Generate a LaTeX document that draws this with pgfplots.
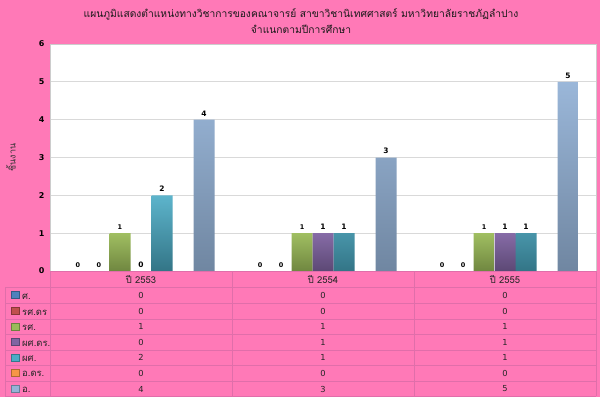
\documentclass[border=0pt]{standalone}
\usepackage{pgfplots}
\pgfplotsset{compat=1.18}
\usepackage{pgfplotstable}
\usepackage{fontspec}
\setmainfont{DejaVu Sans}
\newfontfamily\thai[Script=Thai]{Loma}
\definecolor{bgpink}{RGB}{255,121,183}
\definecolor{gridpink}{RGB}{224,110,170}
\definecolor{cA}{RGB}{79,129,189}
\definecolor{cB}{RGB}{192,80,77}
\definecolor{cC}{RGB}{155,187,89}
\definecolor{cD}{RGB}{128,100,162}
\definecolor{cE}{RGB}{75,172,198}
\definecolor{cF}{RGB}{247,150,70}
\definecolor{cG}{RGB}{149,179,215}
\pgfplotstableread{
x s1 s2 s3 s4 s5 s6 s7
0.5 0 0 1 0 2 0 4
1.5 0 0 1 1 1 0 3
2.5 0 0 1 1 1 0 5
}\data
\begin{document}
\begin{tikzpicture}
\begin{scope}[x=1bp,y=1bp]
\fill[bgpink] (0,0) rectangle (600,397);
\end{scope}
\begin{axis}[at={(50bp,126bp)}, anchor=south west, scale only axis,
  width=546bp, height=227bp, xmin=0, xmax=3, ymin=0, ymax=6,
  ytick={0,...,6}, xtick=\empty, ymajorgrids,
  grid style={black!15, line width=0.8pt}, major tick length=0pt,
  axis background/.style={fill=white}, axis line style={black!20},
  ybar=0pt, bar width=21bp, clip=false,
  /pgf/number format/assume math mode=true,
  yticklabel style={font=\fontsize{8}{9}\selectfont\bfseries, xshift=-2bp},
  small/.style={nodes near coords, every node near coord/.append style={font=\fontsize{6.5}{7}\selectfont\bfseries, text=black}},
  big/.style={nodes near coords, every node near coord/.append style={font=\fontsize{7.5}{8}\selectfont\bfseries, text=black}},
]
\addplot[draw=none, fill=cA, small] table[x=x,y=s1]{\data};
\addplot[draw=none, fill=cB, small] table[x=x,y=s2]{\data};
\addplot[draw=none, top color=cC!95!white, bottom color=cC!72!black, small] table[x=x,y=s3]{\data};
\addplot[draw=none, top color=cD!95!white, bottom color=cD!72!black, big] table[x=x,y=s4]{\data};
\addplot[draw=none, top color=cE!90!white, bottom color=cE!68!black, big] table[x=x,y=s5]{\data};
\addplot[draw=none, fill=cF] table[x=x,y=s6]{\data};
\addplot[draw=none, top color=cG!95!white, bottom color=cG!75!black, big] table[x=x,y=s7]{\data};
\end{axis}
\begin{scope}[x=1bp,y=1bp]
% title
\node[font=\thai\fontsize{10.3}{11}\selectfont, text=black!90] at (301,397-14) {แผนภูมิแสดงตำแหน่งทางวิชาการของคณาจารย์ สาขาวิชานิเทศศาสตร์ มหาวิทยาลัยราชภัฏลำปาง};
\node[font=\thai\fontsize{10.3}{11}\selectfont, text=black!90] at (301,397-29) {จำแนกตามปีการศึกษา};
\node[font=\thai\fontsize{9}{10}\selectfont, rotate=90, text=black!80] at (11,397-157.5) {ชิ้นงาน};
% table grid
\foreach \yy in {287,303,319,334,350,365,381,396} \draw[gridpink, line width=0.6pt] (5,397-\yy) -- (596,397-\yy);
\draw[gridpink, line width=0.6pt] (50,397-271) -- (596,397-271);
\foreach \xx in {50,232,414,596} \draw[gridpink, line width=0.6pt] (\xx,397-271) -- (\xx,397-396);
\draw[gridpink, line width=0.6pt] (5,397-287) -- (5,397-396);
% headers
\foreach \xx/\t in {141/2553,323/2554,505/2555}
  \node[font=\thai\fontsize{9.5}{10}\selectfont, text=black!85] at (\xx,397-279.5) {ปี \t};
% rows
\foreach \yy/\col/\name/\a/\b/\c in {295/cA/ศ./0/0/0, 311/cB/รศ.ดร/0/0/0, 326.5/cC/รศ./1/1/1, 342/cD/ผศ.ดร./0/1/1, 357.5/cE/ผศ./2/1/1, 373/cF/อ.ดร./0/0/0, 389/cG/อ./4/3/5}{
  \fill[\col, draw=\col!70!black, line width=0.3pt] (11,397-\yy-3.5) rectangle (19,397-\yy+3.5);
  \node[font=\thai\fontsize{9.5}{10}\selectfont, text=black!85, anchor=west, inner sep=0pt] at (22,397-\yy-1.2) {\name};
  \node[font=\fontsize{8.3}{9}\selectfont, text=black!85] at (141,397-\yy) {\a};
  \node[font=\fontsize{8.3}{9}\selectfont, text=black!85] at (323,397-\yy) {\b};
  \node[font=\fontsize{8.3}{9}\selectfont, text=black!85] at (505,397-\yy) {\c};
}
\end{scope}
\end{tikzpicture}
\end{document}
